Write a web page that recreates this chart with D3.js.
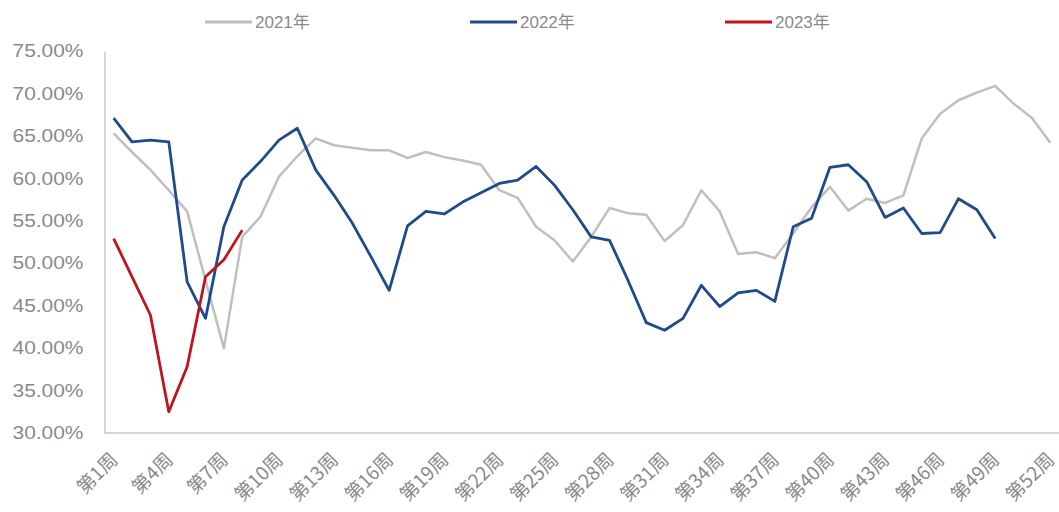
<!DOCTYPE html>
<html><head><meta charset="utf-8">
<script src="https://cdn.jsdelivr.net/npm/d3@7"></script>
<style>
html,body{margin:0;padding:0;background:#fff;}
svg{display:block;}
</style></head>
<body>
<svg id="c" width="1059" height="512"></svg>
<script>
const weeks = d3.range(1, 53);
const tickWeeks = [1,4,7,10,13,16,19,22,25,28,31,34,37,40,43,46,49,52];
const yTicks = [30,35,40,45,50,55,60,65,70,75];
const seriesNames = ["2021年","2022年","2023年"];
const seriesColors = ["#bfbfbf","#1f4a8c","#c0141c"];
const v2021 = [65.3,63.1,61.0,58.6,56.1,48.0,40.0,53.1,55.5,60.2,62.6,64.7,63.9,63.6,63.3,63.3,62.4,63.1,62.5,62.1,61.6,58.6,57.7,54.3,52.7,50.2,53.1,56.5,55.9,55.7,52.6,54.5,58.6,56.1,51.1,51.3,50.6,53.5,56.6,59.0,56.2,57.6,57.1,58.0,64.7,67.6,69.2,70.1,70.9,68.8,67.1,64.2];
const v2022 = [67.1,64.3,64.5,64.3,47.8,43.5,54.3,59.8,62.0,64.5,65.9,61.0,58.0,54.7,50.8,46.8,54.4,56.1,55.8,57.2,58.3,59.4,59.8,61.4,59.2,56.3,53.1,52.7,48.0,43.0,42.1,43.5,47.4,44.9,46.5,46.8,45.5,54.3,55.3,61.3,61.6,59.6,55.4,56.5,53.5,53.6,57.6,56.3,52.9];
const v2023 = [52.9,48.4,43.9,32.5,37.8,48.4,50.4,53.9];

const svg = d3.select("#c");
const L = 104.5, R = 1059.5, T = 51, B = 433;
const x = d3.scalePoint().domain(weeks).range([L, R]).padding(0.5);
const y = d3.scaleLinear().domain([30, 75]).range([B, T]);
const textColor = "#8a8a8a";

// y axis
const ya = svg.append("g").attr("transform", `translate(${L},0)`)
  .call(d3.axisLeft(y).tickValues(yTicks).tickSize(0).tickPadding(21).tickFormat(d => d3.format(".2f")(d) + "%"));
ya.select(".domain").attr("stroke", "#c8c8c8").attr("stroke-width", 1.5);
ya.selectAll("text").attr("fill", textColor).attr("font-family", "'Liberation Sans', Arial, sans-serif")
  .attr("font-size", 18).attr("textLength", 71).attr("lengthAdjust", "spacingAndGlyphs");

// x axis
const xa = svg.append("g").attr("transform", `translate(0,${B})`)
  .call(d3.axisBottom(x).tickValues(tickWeeks).tickSize(0).tickFormat(d => "第" + d + "周"));
xa.select(".domain").attr("stroke", "#c8c8c8").attr("stroke-width", 1.5).attr("d", `M${L},0H${R}`);
xa.selectAll("text").attr("fill", textColor)
  .attr("font-family", "'Noto Sans CJK SC', sans-serif").attr("font-size", 19)
  .attr("text-anchor", "end").attr("dy", "0.35em")
  .attr("transform", "translate(-2,21) rotate(-45)");

// lines
const line = d3.line().x((d, i) => x(weeks[i])).y(d => y(d));
const data = [v2021, v2022, v2023];
data.forEach((vals, k) => {
  svg.append("path").datum(vals).attr("fill", "none")
    .attr("stroke", seriesColors[k]).attr("stroke-width", k === 0 ? 2.5 : 2.8)
    .attr("stroke-linejoin", "round").attr("d", line);
});

// legend
const legX = [205, 470, 725];
seriesNames.forEach((n, k) => {
  const g = svg.append("g").attr("transform", `translate(${legX[k]},22)`);
  g.append("line").attr("x1", 0).attr("x2", 47).attr("y1", 0).attr("y2", 0)
    .attr("stroke", seriesColors[k]).attr("stroke-width", 3);
  g.append("text").attr("x", 50).attr("y", 0).attr("dy", "0.35em").text(n)
    .attr("fill", textColor).attr("font-family", "'Liberation Sans', 'Noto Sans CJK SC', sans-serif").attr("font-size", 17);
});
</script>
</body></html>
